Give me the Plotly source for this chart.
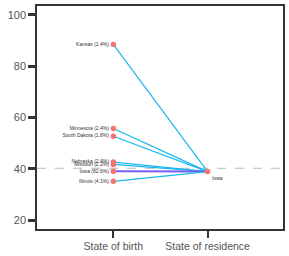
import plotly.graph_objects as go

states = ["Kansas", "Minnesota", "South Dakota", "Nebraska", "Missouri", "Iowa", "Illinois"]
shares = ["1.4%", "2.4%", "1.8%", "2.4%", "2.2%", "82.6%", "4.1%"]
birth_values = [88.5, 55.7, 52.7, 42.6, 41.7, 39.0, 35.1]
residence_state = "Iowa"
residence_value = 38.9
reference_value = 40.2
x_labels = ["State of birth", "State of residence"]

fig = go.Figure()

for s, v in zip(states, birth_values):
    is_home = s == residence_state
    fig.add_trace(go.Scatter(
        x=[0, 1], y=[v, residence_value], mode="lines",
        line=dict(color="#7a5cf0" if is_home else "#19b8f0", width=2 if is_home else 1.2),
        showlegend=False, hoverinfo="skip"))

fig.add_trace(go.Scatter(
    x=[0] * len(states), y=birth_values, mode="markers+text",
    marker=dict(color="#f47470", size=5.5),
    text=[f"{s} ({p})" for s, p in zip(states, shares)],
    textposition="middle left",
    textfont=dict(size=5, color="#333", family="Liberation Sans, Arial"),
    showlegend=False))

fig.add_trace(go.Scatter(
    x=[1], y=[residence_value], mode="markers+text",
    marker=dict(color="#f47470", size=5.5),
    text=[residence_state], textposition="bottom right",
    textfont=dict(size=5, color="#333", family="Liberation Sans, Arial"),
    showlegend=False))

fig.add_shape(type="line", xref="paper", x0=0, x1=1, y0=reference_value, y1=reference_value,
              line=dict(color="#bbbbbb", width=1.2, dash="dash"), layer="below")

fig.update_layout(
    width=289, height=256,
    margin=dict(l=37, r=4, t=5, b=25),
    plot_bgcolor="white", paper_bgcolor="white",
    font=dict(family="Liberation Sans, Arial", color="#555"),
    xaxis=dict(range=[-0.81, 1.8], tickvals=[0, 1], ticktext=x_labels,
               showgrid=False, zeroline=False, showline=True, mirror=True,
               linecolor="#333", linewidth=1.5, ticks="outside", ticklen=7,
               tickwidth=2, tickcolor="#333", tickfont=dict(size=10.5, color="#555")),
    yaxis=dict(range=[16.5, 103.5], tickvals=[20, 40, 60, 80, 100],
               showgrid=False, zeroline=False, showline=True, mirror=True,
               linecolor="#333", linewidth=1.5, ticks="outside", ticklen=7,
               tickwidth=2.5, tickcolor="#333", tickfont=dict(size=11, color="#555")),
)

fig.write_html("out.html", config={"displayModeBar": False},
               post_script="document.body.style.margin='0';document.body.style.overflow='hidden';")
